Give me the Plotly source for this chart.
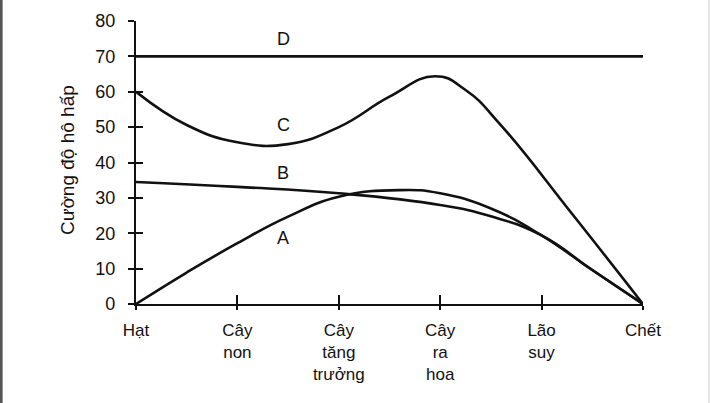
import plotly.graph_objects as go

# Stage labels along the x axis
stages = ["Hạt", "Cây<br>non", "Cây<br>tăng<br>trưởng", "Cây<br>ra<br>hoa", "Lão<br>suy", "Chết"]
stage_pos = [0, 1, 2, 3, 4, 5]

y_ticks = [0, 10, 20, 30, 40, 50, 60, 70, 80]

# Curve A
a_x = [0, 0.5, 1.0, 1.5, 2.0, 2.6, 3.0, 3.5, 4.0, 4.5, 5.0]
a_y = [0, 8.9, 17.2, 24.7, 30.3, 32.2, 31.3, 27.0, 19.4, 9.6, 0]

# Curve B
b_x = [0, 1.0, 2.0, 3.0, 3.5, 4.0, 4.5, 5.0]
b_y = [34.5, 33.1, 31.3, 28.0, 24.8, 19.4, 9.6, 0]

# Curve C
c_x = [0, 0.5, 1.0, 1.5, 2.0, 2.5, 2.95, 3.25, 3.6, 4.3, 5.0]
c_y = [60, 50.6, 45.7, 45.2, 50.0, 58.6, 64.4, 60.5, 50.5, 25.5, 0]

# Curve D
d_x = [0, 5]
d_y = [70, 70]

# Curve labels
lab_text = ["D", "C", "B", "A"]
lab_x = [1.45, 1.45, 1.45, 1.45]
lab_y = [74.9, 50.6, 37.0, 18.7]

INK = "#111111"
FONT = "Liberation Sans, Arial, sans-serif"

fig = go.Figure()
for xs, ys in [(d_x, d_y), (c_x, c_y), (b_x, b_y), (a_x, a_y)]:
    fig.add_trace(go.Scatter(x=xs, y=ys, mode="lines",
                             line=dict(color=INK, width=2.6, shape="spline", smoothing=1.3),
                             hoverinfo="skip", showlegend=False))

# dummy trace for overlay axes (inside tick halves)
fig.add_trace(go.Scatter(x=[None], y=[None], xaxis="x2", yaxis="y2",
                         hoverinfo="skip", showlegend=False))

for t, xx, yy in zip(lab_text, lab_x, lab_y):
    fig.add_annotation(x=xx, y=yy, text=t, showarrow=False,
                       font=dict(size=18, color=INK, family=FONT))

fig.add_annotation(xref="paper", yref="paper", x=-0.16, y=0.51, text="Cường độ hô hấp",
                   textangle=-90, showarrow=False, font=dict(size=19, color=INK, family=FONT))

axis_common = dict(showgrid=False, zeroline=False, showline=True, linecolor=INK, linewidth=2.2,
                   tickcolor=INK, tickwidth=2)

fig.update_layout(
    width=710, height=403,
    margin=dict(l=136, r=67, t=21, b=99),
    paper_bgcolor="white", plot_bgcolor="white",
    font=dict(family=FONT, color=INK),
    xaxis=dict(range=[0, 5], tickvals=stage_pos, ticktext=stages, ticks="outside", ticklen=4,
               tickfont=dict(size=17, color=INK), ticklabelstandoff=5, **axis_common),
    yaxis=dict(range=[0, 80], tickvals=y_ticks, ticks="outside", ticklen=6,
               tickfont=dict(size=18, color=INK), ticklabelstandoff=9, **axis_common),
    xaxis2=dict(range=[0, 5], overlaying="x", anchor="y2", side="bottom", tickvals=stage_pos,
                ticks="inside", ticklen=9, showticklabels=False, **axis_common),
    yaxis2=dict(range=[0, 80], overlaying="y", anchor="x2", side="left", tickvals=y_ticks,
                ticks="inside", ticklen=7, showticklabels=False, **axis_common),
    shapes=[dict(type="line", xref="paper", yref="paper", x0=-0.266, x1=-0.266, y0=-0.35, y1=1.074,
                 line=dict(color="#555555", width=3)),
            dict(type="line", xref="paper", yref="paper", x0=1.13, x1=1.13, y0=-0.35, y1=1.074,
                 line=dict(color="#cccccc", width=1))],
)

fig.write_html("out.html", config={"displayModeBar": False},
               post_script="document.body.style.margin='0px';")
